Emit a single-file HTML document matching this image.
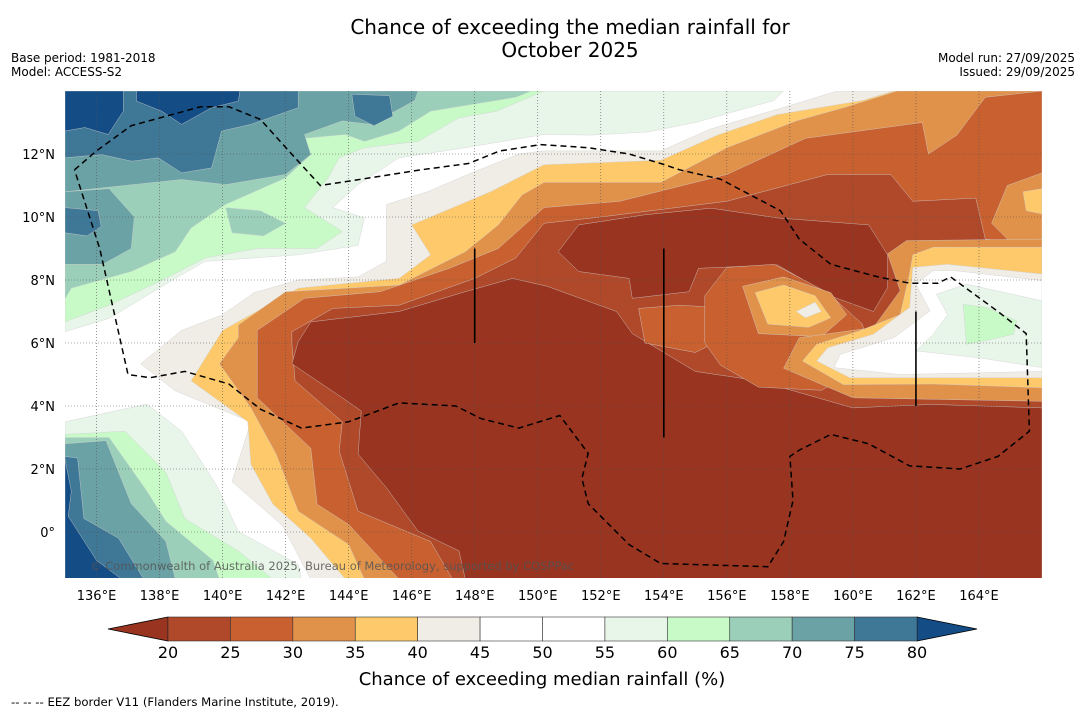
<!DOCTYPE html>
<html><head><meta charset="utf-8">
<style>
html,body{margin:0;padding:0;background:#fff;}
body{width:1085px;height:713px;overflow:hidden;font-family:"DejaVu Sans","Liberation Sans",sans-serif;}
svg text{font-family:"DejaVu Sans","Liberation Sans",sans-serif;}
</style></head>
<body>
<svg id="chart" width="1085" height="713" viewBox="0 0 1085 713" xmlns="http://www.w3.org/2000/svg">
<text x="570" y="34" font-size="20" text-anchor="middle" fill="#000">Chance of exceeding the median rainfall for</text>
<text x="570" y="57" font-size="20" text-anchor="middle" fill="#000">October 2025</text>
<text x="11" y="62" font-size="12" fill="#000">Base period: 1981-2018</text>
<text x="11" y="76" font-size="12" fill="#000">Model: ACCESS-S2</text>
<text x="1075" y="62" font-size="12" text-anchor="end" fill="#000">Model run: 27/09/2025</text>
<text x="1075" y="76" font-size="12" text-anchor="end" fill="#000">Issued: 29/09/2025</text>
<defs><clipPath id="mapclip"><rect x="65" y="91" width="977" height="487"/></clipPath></defs>
<g id="map" clip-path="url(#mapclip)">
<rect x="65" y="91" width="977" height="487" fill="#ffffff"/>
<g id="fills"></g>
<g id="grid"></g>
<g id="overlays"></g>
</g>
<g id="axes"></g>
<text x="90" y="570" font-size="11.5" fill="#555" fill-opacity="0.85">© Commonwealth of Australia 2025, Bureau of Meteorology, supported by COSPPac</text>
<g id="colorbar"></g>
<text x="542" y="685" font-size="18" text-anchor="middle" fill="#000">Chance of exceeding median rainfall (%)</text>
<text x="11" y="706" font-size="11.7" fill="#000">--  --  -- EEZ border V11 (Flanders Marine Institute, 2019).</text>
</svg>
<script>
// ---- data ----
const lonTicks = [136,138,140,142,144,146,148,150,152,154,156,158,160,162,164];
const latTicks = [0,2,4,6,8,10,12];
const cbLevels = [20,25,30,35,40,45,50,55,60,65,70,75,80];
const cbColors = ["#b0482a","#c8602f","#e0914a","#fdc96a","#f0ece6","#ffffff","#ffffff","#e8f5e9","#c8fac8","#9bcfba","#6aa2a5","#3f7797"];
const cbUnder = "#98341f", cbOver = "#144c85";
// contour regions: [colour, polygon in lon/lat]
const wetRegions = [
 ["#e8f5e9",[[135,14],[157.8,14],[157.5,13.7],[155,13],[153.5,12.7],[151.7,12.6],[150.2,12.62],[147.7,12.2],[145.6,11.88],[144.3,11.03],[143.5,10.3],[144.5,9.97],[144.3,9.1],[142.4,8.8],[139.45,8.59],[138.5,8.05],[136.4,6.78],[135,6.36]]],
 ["#c8fac8",[[135,14],[150.2,14],[148.7,13.36],[147.5,13.15],[146.2,12.4],[144.5,12.2],[143.7,11.88],[143.35,11.24],[142.6,10.3],[143.8,9.54],[143,9.0],[141.1,9.0],[139.45,8.7],[138.2,8.05],[136.4,7.2],[135,6.67]]],
 ["#9bcfba",[[135,14],[149.8,14],[149.3,13.8],[146.6,13.36],[145.6,12.73],[144.5,12.4],[143.9,12.62],[142.6,12.5],[142.8,11.98],[142,11.24],[140.1,10.4],[139,9.65],[138.5,8.9],[137.1,8.27],[135.2,7.74],[135,7.4]]],
 ["#9bcfba",[[140.1,10.3],[141.2,10.2],[142,9.8],[141.3,9.4],[140.3,9.5]]],
 ["#6aa2a5",[[135,14],[146.2,14],[146.1,13.7],[144.7,12.94],[143.8,13.05],[142.6,12.62],[142.8,11.98],[142,11.35],[140.1,11.03],[138.7,11.19],[135,10.8]]],
 ["#6aa2a5",[[135,10.8],[136.4,10.9],[137.2,10],[137.1,9],[136.2,8.5],[135,8.5]]],
 ["#3f7797",[[135,14],[142.4,14],[142.4,13.47],[140.9,12.94],[139.97,12.73],[139.65,11.56],[138.7,11.4],[137.96,11.88],[137.12,11.77],[136.16,11.98],[135,11.88]]],
 ["#3f7797",[[144.1,13.9],[145.3,13.85],[145.4,13.2],[144.8,12.9],[144.2,13.2]]],
 ["#3f7797",[[135,10.3],[136.05,10.2],[136.15,9.7],[135.7,9.4],[135,9.5]]],
 ["#144c85",[[135,14],[136.85,14],[136.85,13.36],[136.37,12.62],[135.63,12.84],[135,12.73]]],
 ["#144c85",[[137.27,14],[140.55,14],[140.5,13.68],[139.65,13.47],[138.7,12.94],[138.07,13.36],[137.27,13.68]]],
 ["#e8f5e9",[[135,3.5],[137.6,4.06],[138.7,3.2],[139.8,1.5],[140.5,0.02],[142.4,-1.03],[142.5,-1.5],[135,-1.5]]],
 ["#c8fac8",[[135,3.1],[136.9,3.2],[138.2,1.9],[138.8,0.43],[140.5,-0.6],[141.6,-1.5],[135,-1.5]]],
 ["#9bcfba",[[135,3.0],[136.4,3.0],[137.6,1.3],[138.2,0.34],[139.7,-0.9],[139.9,-1.5],[135,-1.5]]],
 ["#6aa2a5",[[135,2.8],[136.3,2.9],[137.1,0.9],[138.2,-0.3],[138.5,-1.5],[135,-1.5]]],
 ["#3f7797",[[135,2.4],[135.4,2.35],[135.6,0.43],[136.7,-0.2],[137.5,-1.5],[135,-1.5]]],
 ["#144c85",[[135,2.3],[135.2,1.3],[135.1,0.5],[136,-0.9],[136.8,-1.5],[135,-1.5]]]
];
const dryRegions = [
 ["#f0ece6",[[142.8,-1.5],[141.9,0.2],[140.3,1.6],[140.9,3.5],[138.5,4.48],[137.4,5.34],[138.7,6.4],[140,6.9],[141,7.6],[142.4,8.0],[144.3,8.1],[145.2,8.6],[145.2,10.4],[146.5,10.8],[147.9,11.4],[149.4,12.0],[150.2,12.1],[153.9,12.1],[155.5,12.8],[158.2,13.6],[159.5,14],[166,14],[166,-1.5]]],
 ["#fdc96a",[[143.9,-1.5],[142.8,-0.2],[141.6,0.88],[140.9,2.15],[140.8,3.5],[139,4.8],[140,6.4],[142.4,7.74],[144,7.9],[145.6,8.05],[146.6,8.8],[146,9.75],[148.5,10.8],[150.2,11.66],[153.9,11.8],[155.7,12.6],[157.6,13.25],[160.3,13.7],[161.3,14],[166,14],[166,-1.5]]],
 ["#e0914a",[[144.5,-1.5],[144,-0.4],[142.4,0.66],[141.7,2.47],[140.9,3.94],[139.9,5.34],[140.5,6.17],[140.5,6.57],[142,7.63],[143.9,7.74],[145.6,7.84],[147.7,8.9],[148.75,9.75],[149.5,10.7],[150.2,11.1],[153.9,11.1],[156,12.2],[158.2,13.05],[159.8,13.5],[161.4,14],[166,14],[166,-1.5]]],
 ["#c8602f",[[145.6,-1.5],[144,0.24],[143,0.88],[142.8,2.66],[141.1,4.26],[141.1,6.4],[142.6,7.42],[145,7.63],[147.2,8.37],[148.75,9],[150.2,10.3],[152.6,10.5],[156,11.35],[158.5,12.5],[162.2,13],[162.4,12],[163.3,12.6],[164.2,13.8],[166,14],[166,-1.5]]],
 ["#b0482a",[[147.3,-1.5],[146.6,-0.3],[144.3,0.66],[143.7,2.57],[143.8,3.5],[142.3,4.8],[142.2,5.97],[142.2,6.36],[143.5,7.1],[145.6,7.2],[148,8.05],[149.3,8.7],[150.2,9.8],[152,10.0],[156,10.5],[159.2,11.35],[161.2,11.35],[161.9,10.5],[163.9,10.6],[164.2,9.3],[166,9.1],[166,-1.5]]],
 ["#98341f",[[147.7,-1.5],[147.5,-0.6],[146.2,0.03],[145.2,1.4],[144.3,2.47],[144.4,3.84],[143.8,4.26],[142.2,5.34],[142.4,6.04],[142.8,6.67],[145.6,7],[147.7,7.63],[149.2,8.05],[150.3,7.8],[152.5,7.0],[153,6.3],[155,5.1],[157,4.8],[160,3.94],[162.5,4.05],[166,3.94],[166,-1.5]]],
 ["#98341f",[[150.65,8.9],[151.3,9.75],[153.4,10.07],[155.5,10.28],[157.6,9.97],[160.5,9.75],[161.1,8.8],[161.1,7.76],[160.65,7.0],[159.4,7.45],[157.6,8.48],[155.1,8.37],[154.8,7.63],[153,7.42],[152.9,8.05],[151.3,8.27]]],
 ["#c8602f",[[153.2,7.1],[154.5,7.2],[156.2,7.1],[156,6.2],[155,5.7],[153.4,6]]],
 ["#c8602f",[[155.3,7.5],[156,8.4],[157.5,8.5],[159.2,7.6],[160.3,6.6],[160.6,5.4],[159,4.5],[157,4.6],[155.8,5.3],[155.3,6]]],
 ["#e0914a",[[156.5,7.8],[157.8,8.1],[159.3,7.6],[159.8,6.9],[159,6.2],[157,6.3]]],
 ["#fdc96a",[[156.9,7.6],[157.8,7.84],[158.8,7.5],[159.3,6.8],[158.6,6.5],[157.3,6.6]]],
 ["#f0ece6",[[158.2,7.0],[158.8,7.3],[159,7.0],[158.5,6.8]]],
 ["#e0914a",[[166,11.4],[164.9,11],[164.4,9.8],[165,9.2],[166,9]]],
 ["#fdc96a",[[165.4,10.8],[166,10.9],[166,10.1],[165.5,10.2]]],
 ["#e0914a",[[161.5,7.66],[161.1,8.83],[161.7,9.25],[166,9.3],[166,4.15],[160,4.26],[157.8,5.2],[158.3,6.17],[160.65,6.49]]],
 ["#fdc96a",[[161.8,8.2],[161.9,8.8],[162.55,9.04],[166,9.04],[166,4.58],[162.55,4.7],[159.7,4.68],[158.4,5.43],[158.85,5.96],[160.2,6.38],[161.5,6.9]]],
 ["#f0ece6",[[161.9,8.4],[163,8.5],[166,8.19],[166,4.9],[162.55,4.9],[159.9,4.9],[158.85,5.43],[159.2,5.85],[160.65,6.28],[161.8,7.13]]],
 ["#ffffff",[[162,7.87],[162.55,8.3],[163.2,8.3],[166,7.98],[166,5.1],[161.5,5.0],[159.4,5.22],[159.6,5.64],[161.3,6.17],[162.45,7.02]]],
 ["#e8f5e9",[[162.65,7.55],[163.6,7.87],[166,7.34],[166,5.22],[164,5.53],[162,5.75],[162.55,6.28],[163,6.9]]],
 ["#c8fac8",[[163.5,7.23],[164.25,7.13],[165.2,6.7],[165.1,6.28],[164.15,6.06],[163.6,5.96]]]
];
const eezBorder = [[135.3,11.5],[136,12.1],[137.1,12.9],[139.3,13.5],[140.2,13.5],[141.2,13.1],[142.1,12.1],[143.1,11],[144.4,11.2],[146.3,11.5],[147.8,11.7],[148.8,12.1],[150.1,12.3],[151.6,12.2],[152.9,12],[153.9,11.7],[154.5,11.5],[155.8,11.2],[157.7,10.2],[158.3,9.3],[159.3,8.5],[160.8,8.1],[161.8,7.9],[162.7,7.9],[163.1,8.1],[164.6,7],[165.5,6.3],[165.6,3.2],[164.6,2.4],[163.4,2],[161.8,2.1],[160.5,2.8],[159.3,3.1],[158.3,2.6],[158,2.4],[158.1,1],[157.8,-0.3],[157.3,-1.1],[153.9,-1],[152.9,-0.4],[151.6,0.9],[151.4,1.7],[151.6,2.5],[150.7,3.7],[149.4,3.3],[148.2,3.6],[147.4,4],[145.6,4.1],[144,3.5],[142.5,3.3],[141.2,3.9],[140.2,4.7],[138.8,5.1],[137.7,4.9],[137,5],[136.1,9],[135.3,11.5]];
const boundaryLines = [[148,9,6],[154,9,3],[162,7,4]];

// ---- axes ----
const NS="http://www.w3.org/2000/svg";
const X0=65,X1=1042,Y0=91,Y1=578,LON0=135,LON1=166,LAT0=-1.46,LAT1=14;
function xS(lon){return X0+(lon-LON0)/(LON1-LON0)*(X1-X0);}
function yS(lat){return Y1-(lat-LAT0)/(LAT1-LAT0)*(Y1-Y0);}
function mk(tag,attrs,parent){const e=document.createElementNS(NS,tag);for(const k in attrs)e.setAttribute(k,attrs[k]);parent.appendChild(e);return e;}
function pts(poly){return poly.map(p=>xS(p[0]).toFixed(1)+","+yS(p[1]).toFixed(1)).join(" ");}

const fills=document.getElementById('fills');
wetRegions.concat(dryRegions).forEach((r,i)=>{
 const p=mk('polygon',{points:pts(r[1]),fill:r[0],stroke:'#d0d0d0','stroke-width':0.4},fills);
 
 
});
const grid=document.getElementById('grid');
lonTicks.forEach(l=>{
 const g=mk('line',{x1:xS(l),x2:xS(l),y1:Y0,y2:Y1,stroke:'#555','stroke-width':0.6,'stroke-dasharray':'1,2'},grid);
 
 
});
latTicks.forEach(l=>{
 const g=mk('line',{x1:X0,x2:X1,y1:yS(l),y2:yS(l),stroke:'#555','stroke-width':0.6,'stroke-dasharray':'1,2'},grid);
 
 
});
const ov=document.getElementById('overlays');
const eez=mk('polyline',{points:pts(eezBorder),fill:'none',stroke:'#000','stroke-width':1.5,'stroke-dasharray':'6,4'},ov);


boundaryLines.forEach(b=>{
 const l=mk('line',{x1:xS(b[0]),x2:xS(b[0]),y1:yS(b[1]),y2:yS(b[2]),stroke:'#000','stroke-width':1.6},ov);
 
 
});
const axes=document.getElementById('axes');
lonTicks.forEach(l=>{
 const t=mk('text',{x:xS(l),y:600,'font-size':13,'text-anchor':'middle',fill:'#000'},axes);
 t.textContent=l+"°E";
 
 
});
latTicks.forEach(l=>{
 const t=mk('text',{x:55,y:yS(l)+5,'font-size':13,'text-anchor':'end',fill:'#000'},axes);
 t.textContent=l===0?"0°":l+"°N";
 
 
});
// ---- colorbar ----
const cb=document.getElementById('colorbar');
const CX0=168,CX1=917,CY0=617,CY1=641;
function cS(v){return CX0+(v-cbLevels[0])/(cbLevels[cbLevels.length-1]-cbLevels[0])*(CX1-CX0);}
const under=mk('polygon',{points:`${CX0},${CY0} ${CX0-60},${(CY0+CY1)/2} ${CX0},${CY1}`,fill:cbUnder,stroke:'#000','stroke-width':0.8},cb);


const over=mk('polygon',{points:`${CX1},${CY0} ${CX1+60},${(CY0+CY1)/2} ${CX1},${CY1}`,fill:cbOver,stroke:'#000','stroke-width':0.8},cb);


cbColors.forEach((c,i)=>{
 const r=mk('rect',{x:cS(cbLevels[i]),y:CY0,width:cS(cbLevels[i+1])-cS(cbLevels[i]),height:CY1-CY0,fill:c,stroke:'#333','stroke-width':0.6},cb);
 
 
});
cbLevels.forEach(v=>{
 const t=mk('text',{x:cS(v),y:658,'font-size':16,'text-anchor':'middle',fill:'#000'},cb);
 t.textContent=v;
 
 
});
</script>
</body></html>
